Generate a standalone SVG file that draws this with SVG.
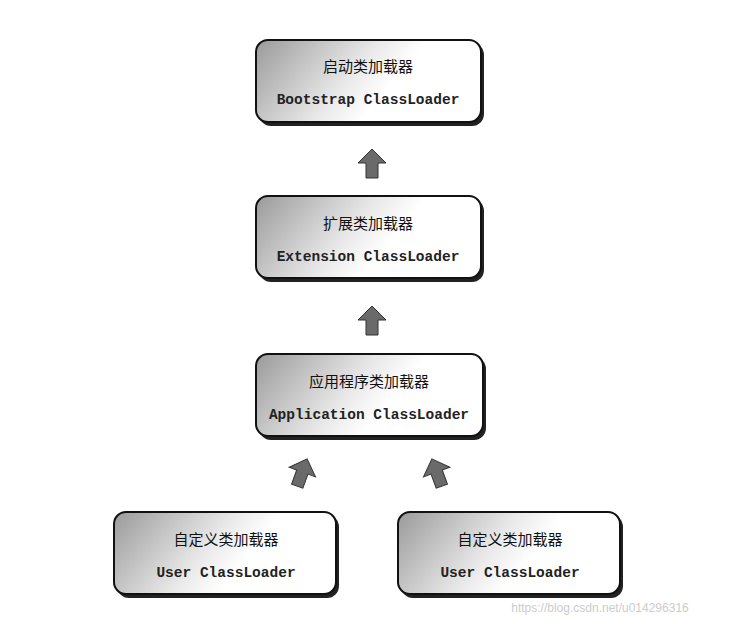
<svg xmlns="http://www.w3.org/2000/svg" width="729" height="624" viewBox="0 0 729 624">
<defs>
<linearGradient id="g" x1="0" y1="0" x2="1" y2="0.3">
<stop offset="0" stop-color="#9a9a9a"/><stop offset="0.5" stop-color="#e8e8e8"/><stop offset="0.7" stop-color="#fff"/><stop offset="1" stop-color="#fff"/>
</linearGradient>
<path id="arr" d="M0,-15 L14,-1 L6,-1 L6,14 L-6,14 L-6,-1 L-14,-1 Z"/>
</defs>
<style>
.box{fill:url(#g);stroke:#111;stroke-width:2}
.sh{fill:#222}
.cn{font-family:"Noto Sans CJK SC",sans-serif;font-size:15px;fill:#111;text-anchor:middle}
.en{font-family:"Liberation Mono",monospace;font-size:14.5px;font-weight:bold;fill:#222;text-anchor:middle}
.a{fill:#6a6a6a;stroke:#333;stroke-width:1}
</style>
<rect width="729" height="624" fill="#fff"/>
<g id="bootstrap"><rect class="sh" x="259" y="43" width="225" height="83" rx="12"/><rect class="box" x="256" y="40" width="225" height="82" rx="12"/><text class="cn" x="368" y="72">启动类加载器</text><text class="en" x="368" y="104">Bootstrap ClassLoader</text></g>
<g id="extension"><rect class="sh" x="259" y="199" width="225" height="83" rx="12"/><rect class="box" x="256" y="196" width="225" height="82" rx="12"/><text class="cn" x="368" y="229">扩展类加载器</text><text class="en" x="368" y="261">Extension ClassLoader</text></g>
<g id="application"><rect class="sh" x="259" y="357" width="227" height="83" rx="12"/><rect class="box" x="256" y="354" width="227" height="82" rx="12"/><text class="cn" x="369" y="387">应用程序类加载器</text><text class="en" x="369" y="419">Application ClassLoader</text></g>
<g id="user1"><rect class="sh" x="117" y="515" width="222" height="83" rx="12"/><rect class="box" x="114" y="512" width="222" height="82" rx="12"/><text class="cn" x="226" y="545">自定义类加载器</text><text class="en" x="226" y="577">User ClassLoader</text></g>
<g id="user2"><rect class="sh" x="401" y="515" width="222" height="83" rx="12"/><rect class="box" x="398" y="512" width="222" height="82" rx="12"/><text class="cn" x="510" y="545">自定义类加载器</text><text class="en" x="510" y="577">User ClassLoader</text></g>
<g id="connectors">
<use href="#arr" class="a" transform="translate(372,164)"/>
<use href="#arr" class="a" transform="translate(372,321)"/>
<use href="#arr" class="a" transform="translate(302,473) rotate(20)"/>
<use href="#arr" class="a" transform="translate(437,473) rotate(-20)"/>
</g>
<text x="600" y="612" font-family="Liberation Sans,sans-serif" font-size="12" fill="#ccc" text-anchor="middle">https://blog.csdn.net/u014296316</text>
</svg>
